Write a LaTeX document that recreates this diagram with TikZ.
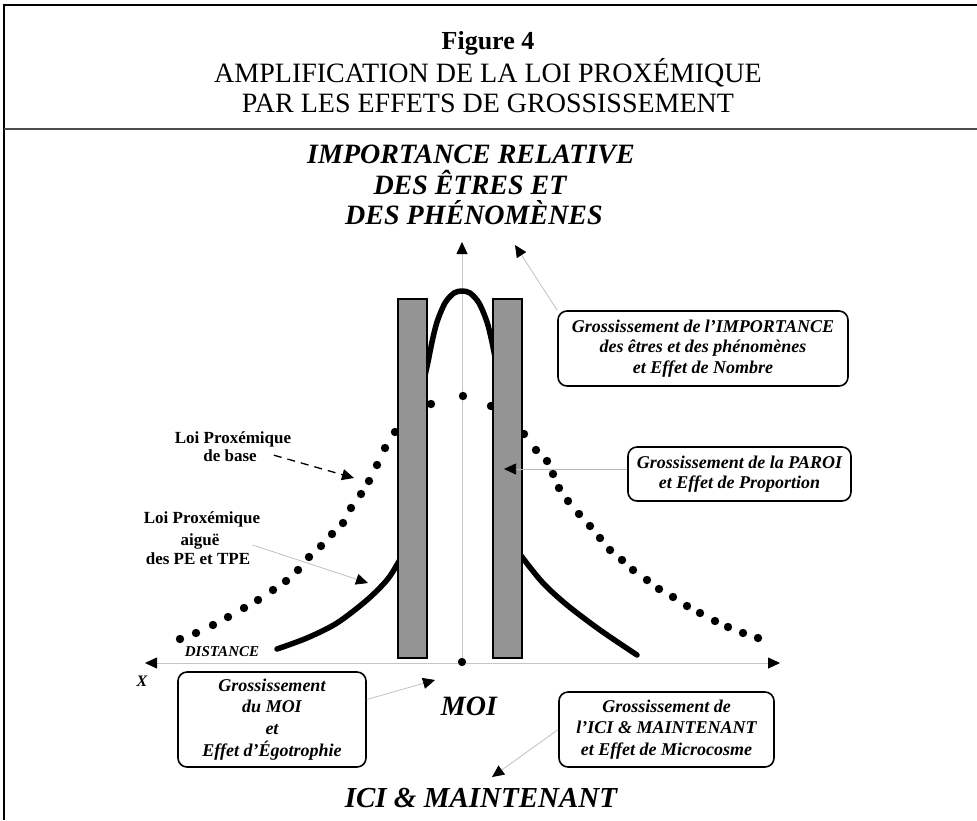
\documentclass[tikz,border=0pt]{standalone}
\usepackage{fontspec}
\setmainfont{Liberation Serif}
\usetikzlibrary{arrows.meta}
\begin{document}
\begin{tikzpicture}[x=1pt,y=-1pt,
  big/.style={font=\bfseries\itshape\fontsize{28}{30}\selectfont, anchor=base, inner sep=0pt},
  ttl/.style={font=\fontsize{28}{30}\selectfont, anchor=base, inner sep=0pt},
  lawtxt/.style={font=\bfseries\fontsize{17}{19}\selectfont, anchor=base, inner sep=0pt},
  smalllbl/.style={font=\bfseries\itshape\fontsize{15}{17}\selectfont, anchor=base, inner sep=0pt},
  gbox/.style={draw=black, line width=1.6pt, rounded corners=9pt, align=center, inner sep=0pt,
    font=\bfseries\itshape\fontsize{18}{20.5}\selectfont},
  tip/.style={-{Triangle[length=12pt,width=11pt,color=black]}},
  thin/.style={draw=gray!55, line width=0.7pt, tip},
  axis/.style={draw=gray!45, line width=0.8pt},
  wall/.style={fill=black!42, draw=black, line width=1.6pt},
  acute/.style={line width=5.5pt, line cap=round, line join=round},
  bdot/.style={circle, fill=black, inner sep=0pt, minimum size=8pt},
]
\useasboundingbox (0,0) rectangle (977,820);
% frame
\draw[line width=2pt] (4,820) -- (4,5) -- (977,5);
\draw[line width=2pt, draw=black!70] (4,129) -- (977,129);
% title
\node[ttl, font=\bfseries\fontsize{26}{28}\selectfont] (fig) at (488,49) {Figure 4};
\node[ttl] (t2) at (488,82) {AMPLIFICATION DE LA LOI PROXÉMIQUE};
\node[ttl] (t3) at (488,112) {PAR LES EFFETS DE GROSSISSEMENT};
% axis labels
\node[big] (imp1) at (471,163) {IMPORTANCE RELATIVE};
\node[big] (imp2) at (470,194) {DES ÊTRES ET};
\node[big] (imp3) at (474,224) {DES PHÉNOMÈNES};
\node[big] (moi) at (469,715) {MOI};
\node[big, font=\bfseries\itshape\fontsize{29}{31}\selectfont] (ici) at (481,807) {ICI \& MAINTENANT};
\node[smalllbl] (dist) at (222,656) {DISTANCE};
\node[smalllbl, font=\bfseries\itshape\fontsize{16}{18}\selectfont] (xlab) at (142,686) {X};
% law labels
\node[lawtxt] (lb1) at (233,443) {Loi Proxémique};
\node[lawtxt] (lb2) at (230,461) {de base};
\node[lawtxt] (la1) at (202,523) {Loi Proxémique};
\node[lawtxt] (la2) at (200,545) {aiguë};
\node[lawtxt] (la3) at (198,564) {des PE et TPE};
% axes
\coordinate (ytip) at (462,242);
\coordinate (xL) at (145,663);
\coordinate (xR) at (780,663);
\node[bdot] (o) at (462,662) {};
\draw[axis, tip] (o.center) -- (ytip);
\draw[axis, {Triangle[length=12pt,width=11pt,color=black]}-{Triangle[length=12pt,width=11pt,color=black]}] (xL) -- (xR);
% base law (dotted)
\foreach \x/\y in {180/639, 196/633, 213/625, 228/617, 244/608, 258/600, 273/590, 286/581, 298/570,
  309/557, 321/546, 332/534, 343/523, 351/508, 361/494, 369/481, 377/465, 385/448, 395/432,
  431/404, 463/396, 491/406,
  524/434, 536/450, 547/461, 553/474, 559/488, 568/501, 579/514,
  590/526, 600/538, 610/550, 622/560, 633/570, 647/580, 659/589, 673/597, 687/606, 700/613,
  715/621, 728/627, 743/633, 758/638}
  \fill (\x,\y) circle (4.2pt);
% acute law (solid)
\draw[acute] plot[smooth] coordinates {(277,649) (307,638) (337,623) (367,600) (387,580) (398,563) (408,545)};
\draw[acute] plot[smooth] coordinates {(424,380) (428,362) (432,342) (437,322) (445,303) (454,293) (462,291) (470,293) (479,303) (487,322) (492,342) (496,362) (500,380)};
\draw[acute] plot[smooth] coordinates {(510,540) (522,557) (543,583) (567,605) (600,630) (637,655)};
% walls
\path[wall] (398,299) rectangle (427,658);
\path[wall] (493,299) rectangle (522,658);
\node[bdot] at (o) {};
% boxes
\node[gbox, minimum width=290pt, minimum height=75pt] (bimp) at (703,348.5)
  {Grossissement de l'IMPORTANCE\\des êtres et des phénomènes\\et Effet de Nombre};
\node[gbox, minimum width=223pt, minimum height=54pt] (bpar) at (739.5,474)
  {Grossissement de la PAROI\\et Effet de Proportion};
\node[gbox, minimum width=188pt, minimum height=95pt, font=\bfseries\itshape\fontsize{18}{21.7}\selectfont] (bmoi) at (272,719.5)
  {Grossissement\\du MOI\\et\\Effet d'Égotrophie};
\node[gbox, minimum width=215pt, minimum height=75pt, font=\bfseries\itshape\fontsize{18}{21.5}\selectfont] (bici) at (666.5,729.5)
  {Grossissement de\\l'ICI \& MAINTENANT\\et Effet de Microcosme};
% connectors
\coordinate (impTip) at (515,245);
\coordinate (parTip) at (504,469);
\coordinate (moiTip) at (435,680);
\coordinate (iciTip) at (492,777);
\coordinate (baseTip) at (354,478);
\coordinate (acuTip) at (368,583);
\draw[thin] (bimp.north west) -- (impTip);
\draw[thin] (bpar.west |- parTip) -- (parTip);
\draw[thin] ([yshift=20pt]bmoi.east) -- (moiTip);
\draw[thin] (bici.west) -- (iciTip);
\draw[black, line width=1.3pt, dash pattern=on 8pt off 6pt, tip] ([xshift=17pt]lb2.east) -- (baseTip);
\draw[thin] ([xshift=33pt,yshift=-4pt]la2.east) -- (acuTip);
\end{tikzpicture}
\end{document}
